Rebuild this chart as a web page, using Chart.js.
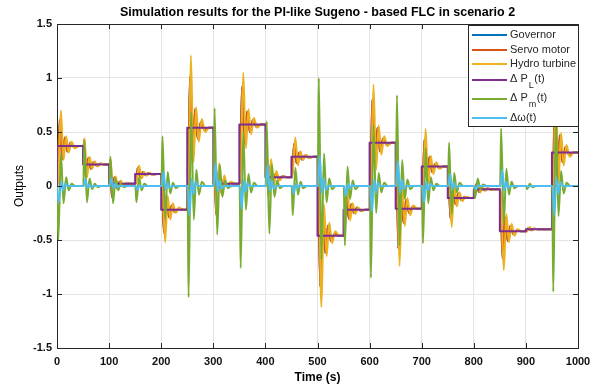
<!DOCTYPE html>
<html><head><meta charset="utf-8">
<style>html,body{margin:0;padding:0;background:#fff;}#wrap{width:604px;height:388px;}</style>
<script src="https://cdn.jsdelivr.net/npm/chart.js@4.4.0/dist/chart.umd.min.js"></script>
</head><body><div id="wrap"><canvas id="c" width="604" height="388"></canvas></div>
<script>
// ---------------- DATA ----------------
const chartTitle = 'Simulation results for the PI-like Sugeno - based FLC in scenario 2';
const xAxisLabel = 'Time (s)';
const yAxisLabel = 'Outputs';
const xTicks = [0,100,200,300,400,500,600,700,800,900,1000];
const yTicks = [-1.5,-1,-0.5,0,0.5,1,1.5];
const seriesNames = ['Governor','Servo motor','Hydro turbine','\u0394 P_L(t)','\u0394 P_m(t)','\u0394\u03c9(t)'];

// load disturbance steps (ΔP_L)
const stepTimes = [0,50,100,150,200,250,300,350,400,450,500,550,600,650,700,750,800,850,900,950];
const loadLevels = [0.37,0.20,0.02,0.11,-0.22,0.54,0.02,0.57,0.08,0.27,-0.46,-0.22,0.40,-0.21,0.18,-0.11,-0.03,-0.42,-0.40,0.31];

// servo motor output [time, value]
const servoMotor = [
[0,0],[1,0],[5,0.61],[10,0.25],[15,0.45],[20,0.32],[26,0.40],[33,0.36],[42,0.37],
[51,0.37],[52.5,0.43],[55,0.09],[60,0.26],[65,0.16],[70,0.22],[76,0.19],[83,0.205],[92,0.20],
[101,0.20],[102.5,0.24],[105,-0.10],[110,0.08],[115,-0.02],[120,0.04],[126,0.01],[133,0.025],[142,0.02],
[151,0.02],[155,0.17],[160,0.08],[165,0.13],[170,0.10],[176,0.12],[183,0.107],[192,0.11],
[201,0.11],[205,-0.43],[210,-0.11],[215,-0.29],[220,-0.18],[226,-0.24],[233,-0.21],[242,-0.22],
[251,-0.22],[255,1.01],[260,0.29],[265,0.71],[270,0.44],[276,0.59],[283,0.52],[292,0.54],
[301,0.54],[305,-0.26],[310,0.14],[315,-0.06],[320,0.06],[326,0.0],[333,0.03],[342,0.02],
[351,0.02],[355,0.92],[360,0.39],[365,0.69],[370,0.50],[376,0.61],[383,0.55],[392,0.57],
[401,0.57],[405,-0.08],[410,0.20],[415,0.02],[420,0.12],[426,0.06],[433,0.09],[442,0.08],
[451,0.08],[455,0.39],[460,0.21],[465,0.31],[470,0.245],[476,0.283],[483,0.264],[492,0.27],
[501,0.27],[505,-0.93],[510,-0.22],[515,-0.62],[520,-0.365],[526,-0.51],[533,-0.44],[542,-0.46],
[551,-0.46],[555,-0.07],[560,-0.30],[565,-0.17],[570,-0.25],[576,-0.20],[583,-0.23],[592,-0.22],
[601,-0.22],[605,0.80],[610,0.20],[615,0.54],[620,0.32],[626,0.44],[633,0.38],[642,0.40],
[651,0.40],[655,-0.58],[660,-0.01],[665,-0.34],[670,-0.13],[676,-0.25],[683,-0.19],[692,-0.21],
[701,-0.21],[705,0.43],[710,0.05],[715,0.27],[720,0.13],[726,0.207],[733,0.168],[742,0.18],
[751,0.18],[755,-0.30],[760,-0.01],[765,-0.17],[770,-0.07],[776,-0.13],[783,-0.10],[792,-0.11],
[801,-0.11],[805,0.02],[810,-0.056],[815,-0.012],[820,-0.04],[826,-0.024],[833,-0.032],[842,-0.03],
[851,-0.03],[855,-0.67],[860,-0.29],[865,-0.51],[870,-0.37],[876,-0.447],[883,-0.408],[892,-0.42],
[901,-0.42],[905,-0.39],[910,-0.41],[915,-0.395],[925,-0.40],
[951,-0.40],[955,0.76],[960,0.08],[965,0.47],[970,0.22],[976,0.36],[983,0.29],[992,0.31],[1000,0.31]
];

// governor output (hidden beneath the servo trace in the reference)
const governor = servoMotor;

// hydro turbine output [time, value]
const hydroTurbine = [
[0,0],[1.5,0],[7.5,0.70],[12.5,0.24],[17.5,0.46],[22.5,0.31],[28,0.41],[34,0.35],[42,0.37],
[51,0.37],[53,0.44],[57.5,0.08],[62.5,0.27],[67.5,0.16],[72.5,0.23],[78,0.18],[84,0.21],[92,0.20],
[101,0.20],[103,0.25],[107.5,-0.10],[112.5,0.09],[117.5,-0.03],[122.5,0.05],[128,0.0],[134,0.03],[142,0.02],
[151.5,0.02],[157.5,0.19],[162.5,0.07],[167.5,0.13],[172.5,0.095],[178,0.12],[184,0.105],[192,0.11],
[201.5,0.11],[207.5,-0.52],[212.5,-0.09],[217.5,-0.31],[222.5,-0.16],[228,-0.25],[234,-0.20],[242,-0.22],
[251.5,-0.22],[257,1.21],[262,0.22],[267,0.73],[272,0.41],[278,0.62],[284,0.50],[292,0.54],
[301.5,0.54],[306,-0.28],[311,0.21],[316,-0.08],[321,0.10],[327,-0.01],[334,0.04],[342,0.02],
[351.5,0.02],[357.5,1.05],[362.5,0.35],[367.5,0.71],[372.5,0.48],[378,0.63],[384,0.54],[392,0.57],
[401.5,0.57],[406,-0.12],[411,0.25],[416,0.0],[421,0.14],[427,0.05],[434,0.09],[442,0.08],
[451.5,0.08],[457.5,0.45],[462.5,0.19],[467.5,0.32],[472.5,0.24],[478,0.29],[484,0.26],[492,0.27],
[501.5,0.27],[507.5,-1.12],[512.5,-0.17],[517.5,-0.65],[522.5,-0.34],[528,-0.53],[534,-0.42],[542,-0.46],
[551.5,-0.46],[557.5,-0.01],[562.5,-0.32],[567.5,-0.16],[572.5,-0.26],[578,-0.20],[584,-0.23],[592,-0.22],
[601.5,-0.22],[607.5,0.94],[612.5,0.15],[617.5,0.56],[622.5,0.29],[628,0.46],[634,0.37],[642,0.40],
[651.5,0.40],[657.5,-0.74],[662.5,0.03],[667.5,-0.37],[672.5,-0.11],[678,-0.27],[684,-0.18],[692,-0.21],
[701.5,-0.21],[707.5,0.53],[712.5,0.02],[717.5,0.28],[722.5,0.11],[728,0.22],[734,0.16],[742,0.18],
[751.5,0.18],[757.5,-0.38],[762.5,0.01],[767.5,-0.19],[772.5,-0.06],[778,-0.14],[784,-0.10],[792,-0.11],
[801.5,-0.11],[807.5,0.04],[812.5,-0.06],[817.5,-0.01],[822.5,-0.045],[828,-0.02],[834,-0.035],[842,-0.03],
[851.5,-0.03],[857.5,-0.78],[862.5,-0.26],[867.5,-0.52],[872.5,-0.35],[878,-0.46],[884,-0.40],[892,-0.42],
[901.5,-0.42],[907.5,-0.38],[912.5,-0.41],[917.5,-0.395],[925,-0.40],
[951.5,-0.40],[957.5,0.93],[962.5,0.03],[967.5,0.49],[972.5,0.19],[978,0.38],[984,0.27],[992,0.31],[1000,0.31]
];

// ΔP_m [time, value]
const deltaPm = [
[0,0],[2.5,-0.5],[7.5,0.30],[12.5,-0.16],[17.5,0.08],[22.5,-0.04],[28,0.02],[35,0],
[50.5,0],[52.5,0.42],[57.5,-0.15],[62.5,0.07],[67.5,-0.03],[72.5,0.02],[78,-0.01],[85,0],
[100.5,0],[102.5,0.27],[107.5,-0.16],[112.5,0.07],[117.5,-0.04],[122.5,0.02],[128,-0.01],[135,0],
[150.5,0],[152.5,-0.15],[157.5,0.08],[162.5,-0.04],[167.5,0.02],[175,0],
[200.5,0],[202.5,0.46],[207.5,-0.30],[212.5,0.13],[217.5,-0.07],[222.5,0.03],[228,-0.02],[235,0],
[250.5,0],[252.5,-1.03],[257.5,0.68],[262.5,-0.31],[267.5,0.15],[272.5,-0.08],[278,0.04],[285,0],
[300.5,0],[302.5,0.72],[307.5,-0.45],[312.5,0.20],[317.5,-0.10],[322.5,0.05],[328,-0.02],[335,0],
[350.5,0],[352.5,-0.76],[357.5,0.50],[362.5,-0.22],[367.5,0.11],[372.5,-0.06],[378,0.03],[385,0],
[400.5,0],[402.5,0.60],[407.5,-0.44],[412.5,0.20],[417.5,-0.10],[422.5,0.05],[428,-0.02],[435,0],
[450.5,0],[452.5,-0.27],[457.5,0.17],[462.5,-0.08],[467.5,0.04],[472.5,-0.02],[480,0],
[500.5,0],[502.5,1.00],[507.5,-0.68],[512.5,0.30],[517.5,-0.15],[522.5,0.07],[528,-0.03],[535,0],
[550.5,0],[552.5,-0.55],[557.5,0.18],[562.5,-0.12],[567.5,0.05],[572.5,-0.03],[580,0],
[600.5,0],[602.5,-0.85],[607.5,0.56],[612.5,-0.25],[617.5,0.12],[622.5,-0.06],[628,0.03],[635,0],
[650.5,0],[652.5,0.84],[657.5,-0.55],[662.5,0.24],[667.5,-0.12],[672.5,0.06],[678,-0.03],[685,0],
[700.5,0],[702.5,-0.53],[707.5,0.35],[712.5,-0.16],[717.5,0.08],[722.5,-0.04],[728,0.02],[735,0],
[750.5,0],[752.5,0.40],[757.5,-0.26],[762.5,0.12],[767.5,-0.06],[772.5,0.03],[780,0],
[800.5,0],[802.5,-0.11],[807.5,0.07],[812.5,-0.03],[817.5,0.015],[825,0],
[850.5,0],[852.5,0.53],[857.5,-0.35],[862.5,0.16],[867.5,-0.08],[872.5,0.04],[878,-0.02],[885,0],
[900.5,0],[902.5,-0.03],[907.5,0.02],[912.5,-0.01],[920,0],
[950.5,0],[952.5,-0.98],[957.5,0.64],[962.5,-0.28],[967.5,0.14],[972.5,-0.07],[978,0.03],[985,0],[1000,0]
];

// Δω [time, value]
const deltaOmega = [
[0,0],[3,-0.15],[8.5,0.04],[12,-0.04],[16,0.02],[21,0],
[51,0],[54.5,0.065],[58.5,-0.017],[62,0.017],[66,-0.008],[71,0],
[101,0],[104.5,0.07],[108.5,-0.02],[112,0.02],[116,-0.01],[121,0],
[151,0],[154.5,-0.035],[158.5,0.01],[162,-0.01],[167,0],
[201,0],[204.5,0.13],[208.5,-0.033],[212,0.033],[216,-0.017],[221,0],
[251,0],[254.5,-0.27],[258.5,0.07],[262,-0.076],[266,0.038],[271,0],
[301,0],[304.5,0.21],[308.5,-0.05],[312,0.05],[316,-0.026],[321,0],
[351,0],[354.5,-0.21],[358.5,0.055],[362,-0.055],[366,0.028],[371,0],
[401,0],[404.5,0.19],[408.5,-0.05],[412,0.05],[416,-0.025],[421,0],
[451,0],[454.5,-0.07],[458.5,0.02],[462,-0.02],[466,0.01],[471,0],
[501,0],[504.5,0.28],[508.5,-0.07],[512,0.07],[516,-0.036],[521,0],
[551,0],[554.5,-0.09],[558.5,0.024],[562,-0.024],[566,0.012],[571,0],
[601,0],[604.5,-0.24],[608.5,0.06],[612,-0.06],[616,0.03],[621,0],
[651,0],[654.5,0.23],[658.5,-0.06],[662,0.06],[666,-0.03],[671,0],
[701,0],[704.5,-0.15],[708.5,0.04],[712,-0.04],[716,0.02],[721,0],
[751,0],[754.5,0.11],[758.5,-0.03],[762,0.03],[766,-0.015],[771,0],
[801,0],[804.5,-0.03],[808.5,0.008],[813,0],
[851,0],[854.5,0.15],[858.5,-0.04],[862,0.04],[866,-0.02],[871,0],
[901,0],[904.5,-0.008],[909,0],
[951,0],[954.5,-0.27],[958.5,0.07],[962,-0.07],[966,0.035],[971,0],[1000,0]
];

// ---------------- STYLE ----------------
const seriesColors = ['#0072BD','#D95319','#EDB120','#7E2F8E','#77AC30','#4DBEEE'];
const FONT = '"Liberation Sans", Arial, sans-serif';
const INK = '#262626';

const toXY = arr => arr.map(p => ({x: p[0], y: p[1]}));
const loadData = [{x: stepTimes[0], y: 0}]
  .concat(stepTimes.map((t, i) => ({x: t, y: loadLevels[i]})))
  .concat([{x: xTicks[xTicks.length - 1], y: loadLevels[loadLevels.length - 1]}]);

const seriesData = [toXY(governor), toXY(servoMotor), toXY(hydroTurbine), loadData, toXY(deltaPm), toXY(deltaOmega)];
// drawing order: later series on top (as in the reference)
const drawOrder = [5, 4, 3, 2, 1, 0];

const datasets = seriesData.map((d, i) => ({
  label: seriesNames[i],
  data: d,
  borderColor: seriesColors[i],
  backgroundColor: seriesColors[i],
  borderWidth: 2,
  pointRadius: 0,
  fill: false,
  order: drawOrder[i],
  stepped: i === 3 ? 'before' : false,
  cubicInterpolationMode: 'monotone',
  borderJoinStyle: 'round'
}));

function drawRich(ctx, text, x, y) {
  let cx = x;
  const re = /_(.)/g;
  let last = 0, m;
  const main = 'normal 11px ' + FONT, sub = 'normal 9px ' + FONT;
  const hasSub = text.indexOf('_') >= 0;
  const yMain = hasSub ? y - 1.5 : y;
  while ((m = re.exec(text)) !== null) {
    const seg = text.slice(last, m.index);
    ctx.font = main; ctx.fillText(seg, cx, yMain); cx += ctx.measureText(seg).width + 1;
    ctx.font = sub; ctx.fillText(m[1], cx, y + 5.5); cx += ctx.measureText(m[1]).width + 0.5;
    last = re.lastIndex;
  }
  const rest = text.slice(last);
  ctx.font = main; ctx.fillText(rest, cx, yMain);
}

const decorPlugin = {
  id: 'decor',
  afterDraw(chart) {
    const ctx = chart.ctx, a = chart.chartArea;
    const xs = chart.scales.x, ys = chart.scales.y;
    ctx.save();
    ctx.strokeStyle = INK; ctx.lineWidth = 1;
    ctx.beginPath();
    ctx.moveTo(a.left, a.top + 0.5); ctx.lineTo(a.right + 0.5, a.top + 0.5);
    ctx.moveTo(a.right + 0.5, a.top); ctx.lineTo(a.right + 0.5, a.bottom);
    xTicks.forEach(v => {
      const px = Math.round(xs.getPixelForValue(v)) + 0.5;
      ctx.moveTo(px, a.bottom); ctx.lineTo(px, a.bottom - 5);
      ctx.moveTo(px, a.top); ctx.lineTo(px, a.top + 5);
    });
    yTicks.forEach(v => {
      const py = Math.round(ys.getPixelForValue(v)) + 0.5;
      ctx.moveTo(a.left, py); ctx.lineTo(a.left + 5, py);
      ctx.moveTo(a.right, py); ctx.lineTo(a.right - 5, py);
    });
    ctx.stroke();

    ctx.fillStyle = '#000';
    ctx.textAlign = 'center'; ctx.textBaseline = 'middle';
    ctx.font = 'bold 12.5px ' + FONT;
    ctx.fillText(chartTitle, (a.left + a.right) / 2, 13);
    ctx.font = 'bold 12px ' + FONT;
    ctx.fillText(xAxisLabel, (a.left + a.right) / 2, 378);
    ctx.save();
    ctx.translate(20, (a.top + a.bottom) / 2);
    ctx.rotate(-Math.PI / 2);
    ctx.font = 'normal 12px ' + FONT;
    ctx.fillText(yAxisLabel, 0, 0);
    ctx.restore();

    const lx = 468.5, ly = 25.5, lw = 110, lh = 101;
    ctx.fillStyle = '#fff';
    ctx.fillRect(lx, ly, lw, lh);
    ctx.strokeStyle = INK; ctx.lineWidth = 1;
    ctx.strokeRect(lx, ly, lw, lh);
    const rowY = [35, 50, 64, 80, 99, 118];
    ctx.textAlign = 'left'; ctx.textBaseline = 'middle';
    seriesNames.forEach((n, i) => {
      ctx.strokeStyle = seriesColors[i]; ctx.lineWidth = 2;
      ctx.beginPath(); ctx.moveTo(472, rowY[i]); ctx.lineTo(507, rowY[i]); ctx.stroke();
      ctx.fillStyle = INK;
      drawRich(ctx, n, 510, rowY[i]);
    });
    ctx.restore();
  }
};

new Chart(document.getElementById('c'), {
  type: 'line',
  data: { datasets },
  options: {
    responsive: false,
    animation: false,
    devicePixelRatio: 1,
    layout: { padding: { left: 0, right: 26, top: 24, bottom: 0 } },
    plugins: { legend: { display: false }, title: { display: false }, tooltip: { enabled: false } },
    scales: {
      x: {
        type: 'linear', min: xTicks[0], max: xTicks[xTicks.length - 1],
        afterBuildTicks: s => { s.ticks = xTicks.map(v => ({ value: v })); },
        afterFit: s => { s.height = 40; },
        grid: { color: '#e4e4e4', lineWidth: 1, drawTicks: false },
        border: { color: INK, width: 1 },
        ticks: { color: '#111', font: { family: FONT, size: 11, weight: 'bold' }, padding: 7, maxRotation: 0, autoSkip: false,
                 callback: v => String(v) }
      },
      y: {
        type: 'linear', min: yTicks[0], max: yTicks[yTicks.length - 1],
        afterBuildTicks: s => { s.ticks = yTicks.map(v => ({ value: v })); },
        afterFit: s => { s.width = 57; },
        grid: { color: '#e4e4e4', lineWidth: 1, drawTicks: false },
        border: { color: INK, width: 1 },
        ticks: { color: '#111', font: { family: FONT, size: 11, weight: 'bold' }, padding: 5, autoSkip: false,
                 callback: v => String(v) }
      }
    }
  },
  plugins: [decorPlugin]
});
</script></body></html>
